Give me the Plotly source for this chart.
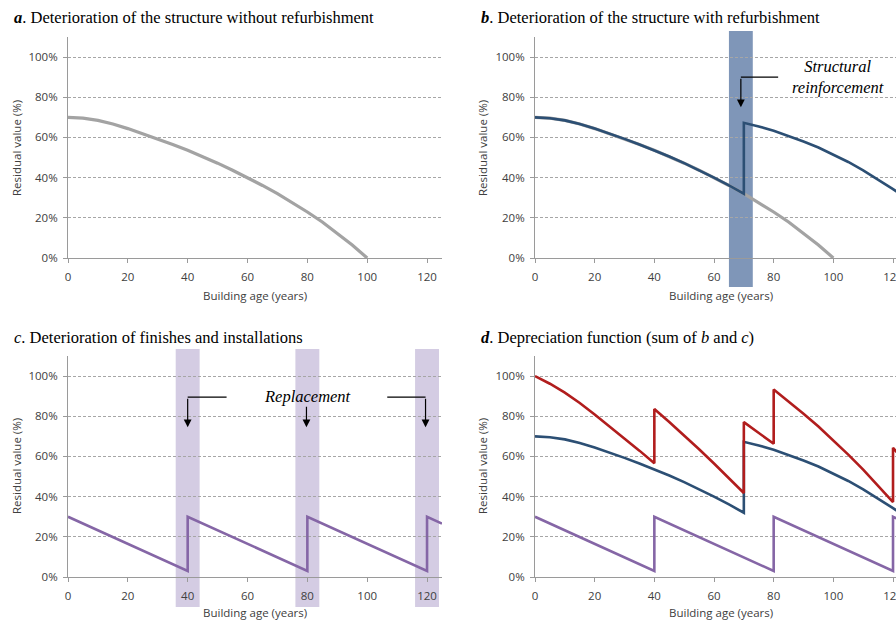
import plotly.graph_objects as go

# ---------------- data ----------------
x_ticks = [0, 20, 40, 60, 80, 100, 120]
y_ticks = [0, 20, 40, 60, 80, 100]
y_tick_labels = ["0%", "20%", "40%", "60%", "80%", "100%"]

# a. structure without refurbishment
years_struct = [0, 5, 10, 15, 20, 25, 30, 35, 40, 45, 50, 55, 60, 65, 70, 75, 80, 85, 90, 95, 100]
struct_no_refurb = [70, 69.6, 68.5, 66.7, 64.4, 61.9, 59.3, 56.5, 53.6, 50.5, 47.2,
                    43.7, 40.0, 36.1, 32.0, 27.6, 22.9, 17.9, 12.4, 6.5, 0]

# b. structure with refurbishment (reinforcement at 70 years)
years_refurb = [0, 5, 10, 15, 20, 25, 30, 35, 40, 45, 50, 55, 60, 65, 70,
                70, 75, 80, 85, 90, 95, 100, 105, 110, 115, 120, 125]
struct_refurb = [70, 69.6, 68.5, 66.7, 64.4, 61.9, 59.3, 56.5, 53.6, 50.5, 47.2,
                 43.7, 40.0, 36.1, 32.0,
                 67.3, 65.5, 63.3, 60.8, 58.0, 55.0, 51.6, 47.8, 43.6, 39.0, 34.3, 29.2]
reinforcement_band = [65, 73]

# c. finishes and installations (replacement every 40 years)
years_finish = [0, 40, 40, 80, 80, 120, 120, 125]
finish_value = [30, 3, 30, 3, 30, 3, 30, 26.6]
replacement_bands = [[36, 44], [76, 84], [116, 124]]

# d. depreciation function (sum of b and c)
years_total = [0, 5, 10, 15, 20, 25, 30, 35, 40,
               40, 45, 50, 55, 60, 65, 70,
               70, 75, 80,
               80, 85, 90, 95, 100, 105, 110, 115, 120,
               120, 125]
total_value = [100, 96.2, 91.8, 86.6, 80.9, 75.0, 69.1, 62.9, 56.6,
               83.6, 77.1, 70.5, 63.6, 56.5, 49.2, 41.8,
               77.1, 71.9, 66.3,
               93.3, 87.4, 81.3, 74.9, 68.1, 60.9, 53.4, 45.4, 37.3,
               64.3, 55.8]

titles = {
    "a": "<b><i>a</i></b>. Deterioration of the structure without refurbishment",
    "b": "<b><i>b</i></b>. Deterioration of the structure with refurbishment",
    "c": "<i>c</i>. Deterioration of finishes and installations",
    "d": "<b><i>d</i></b>. Depreciation function (sum of <i>b</i> and <i>c</i>)",
}

# ---------------- styling ----------------
W, H = 896, 620
GRAY = "#a3a3a3"
BLUE = "#2c4f74"
PURPLE = "#8566a6"
RED = "#b11d1d"
AXIS = "#9a9a9a"
TICKFONT = dict(family="Open Sans", size=11.5, color="#404040")
SERIF = "Liberation Serif"

def fx(p):
    return p / W

def fy(p):
    return 1 - p / H

panels = {
    "a": dict(ax="", xd=[fx(68), fx(442)], yd=[fy(258), fy(37)], xr=[0, 125],
              title=(12, 17), ytitle=(16, 148), xtitle=(255, 295)),
    "b": dict(ax="2", xd=[fx(535), 1.0], yd=[fy(258), fy(37)], xr=[0, 121],
              title=(479, 17), ytitle=(482, 148), xtitle=(721, 295)),
    "c": dict(ax="3", xd=[fx(68), fx(442)], yd=[fy(577), fy(356)], xr=[0, 125],
              title=(12, 337), ytitle=(16, 466), xtitle=(255, 612)),
    "d": dict(ax="4", xd=[fx(535), 1.0], yd=[fy(577), fy(356)], xr=[0, 121],
              title=(479, 337), ytitle=(482, 466), xtitle=(721, 612)),
}

fig = go.Figure()

def add_line(panel, xs, ys, color, width):
    a = panels[panel]["ax"]
    fig.add_trace(go.Scatter(x=xs, y=ys, mode="lines",
                             line=dict(color=color, width=width),
                             xaxis="x" + a, yaxis="y" + a,
                             showlegend=False, hoverinfo="skip"))

add_line("a", years_struct, struct_no_refurb, GRAY, 3.2)
add_line("b", years_struct, struct_no_refurb, GRAY, 3.2)
add_line("b", years_refurb, struct_refurb, BLUE, 2.6)
add_line("c", years_finish, finish_value, PURPLE, 2.6)
add_line("d", years_finish, finish_value, PURPLE, 2.6)
add_line("d", years_refurb, struct_refurb, BLUE, 2.6)
add_line("d", years_total, total_value, RED, 2.6)

layout = dict(width=W, height=H, margin=dict(l=0, r=0, t=0, b=0),
              paper_bgcolor="white", plot_bgcolor="rgba(0,0,0,0)",
              showlegend=False)

annotations = []
shapes = []
for key, p in panels.items():
    a = p["ax"]
    layout["xaxis" + a] = dict(
        domain=p["xd"], range=p["xr"], anchor="y" + a,
        tickmode="array", tickvals=x_ticks, ticks="outside", ticklen=4, tickcolor=AXIS,
        showline=True, linecolor=AXIS, linewidth=1,
        showgrid=False, zeroline=False, tickfont=TICKFONT,
        ticklabelstandoff=4, ticklabeloverflow="allow",
        fixedrange=True, automargin=False)
    layout["yaxis" + a] = dict(
        domain=p["yd"], range=[0, 110], anchor="x" + a,
        tickmode="array", tickvals=y_ticks, ticktext=y_tick_labels,
        ticks="outside", ticklen=4, tickcolor=AXIS,
        showline=True, linecolor=AXIS, linewidth=1,
        showgrid=True, gridcolor="#a6a6a6", gridwidth=1, griddash="3px,2px",
        zeroline=False, tickfont=TICKFONT, ticklabelstandoff=3, fixedrange=True,
        automargin=False)
    tx, ty = p["title"]
    annotations.append(dict(text=titles[key], xref="paper", yref="paper",
                            x=fx(tx), y=fy(ty), xanchor="left", yanchor="middle",
                            showarrow=False,
                            font=dict(family=SERIF, size=16.5, color="black")))
    yx, yy = p["ytitle"]
    annotations.append(dict(text="Residual value (%)", xref="paper", yref="paper",
                            x=fx(yx), y=fy(yy), xanchor="center", yanchor="middle",
                            textangle=-90, showarrow=False,
                            font=dict(family="Open Sans", size=11.5, color="#404040")))
    xx, xy = p["xtitle"]
    annotations.append(dict(text="Building age (years)", xref="paper", yref="paper",
                            x=fx(xx), y=fy(xy), xanchor="center", yanchor="middle",
                            showarrow=False,
                            font=dict(family="Open Sans", size=11.5, color="#404040")))

# bands
shapes.append(dict(type="rect", xref="x2", yref="paper",
                   x0=reinforcement_band[0], x1=reinforcement_band[1],
                   y0=fy(287), y1=fy(31), fillcolor="#7f96b8",
                   line=dict(width=0), layer="below"))
for b0, b1 in replacement_bands:
    shapes.append(dict(type="rect", xref="x3", yref="paper",
                       x0=b0, x1=b1, y0=fy(607), y1=fy(349),
                       fillcolor="#d4cce3", line=dict(width=0), layer="below"))

# elbow arrows
ARROW = dict(showarrow=True, arrowhead=2, arrowsize=1.3, arrowwidth=1.2,
             arrowcolor="black", text="")
shapes.append(dict(type="line", xref="x2", yref="y2", x0=81.5, y0=90, x1=69, y1=90,
                   line=dict(color="black", width=1.2)))
annotations.append(dict(xref="x2", yref="y2", axref="x2", ayref="y2",
                        x=69, y=75, ax=69, ay=90, **ARROW))
annotations.append(dict(text="<i>Structural<br>reinforcement</i>", xref="x2", yref="y2",
                        x=101.5, y=90, xanchor="center", yanchor="middle",
                        showarrow=False, align="center",
                        font=dict(family=SERIF, size=16.5, color="black")))

shapes.append(dict(type="line", xref="x3", yref="y3", x0=53, y0=89.5, x1=40, y1=89.5,
                   line=dict(color="black", width=1.2)))
annotations.append(dict(xref="x3", yref="y3", axref="x3", ayref="y3",
                        x=40, y=74.5, ax=40, ay=89.5, **ARROW))
annotations.append(dict(xref="x3", yref="y3", axref="x3", ayref="y3",
                        x=79.7, y=74.5, ax=79.7, ay=85.5, **ARROW))
shapes.append(dict(type="line", xref="x3", yref="y3", x0=106.7, y0=89.5, x1=119.5, y1=89.5,
                   line=dict(color="black", width=1.2)))
annotations.append(dict(xref="x3", yref="y3", axref="x3", ayref="y3",
                        x=119.5, y=74.5, ax=119.5, ay=89.5, **ARROW))
annotations.append(dict(text="<i>Replacement</i>", xref="x3", yref="y3",
                        x=80, y=90, xanchor="center", yanchor="middle",
                        showarrow=False,
                        font=dict(family=SERIF, size=16.5, color="black")))

layout["annotations"] = annotations
layout["shapes"] = shapes
fig.update_layout(**layout)
fig.write_html(
    "out.html",
    config={"displayModeBar": False},
    post_script="document.body.style.margin='0';document.body.style.overflow='hidden';",
)
